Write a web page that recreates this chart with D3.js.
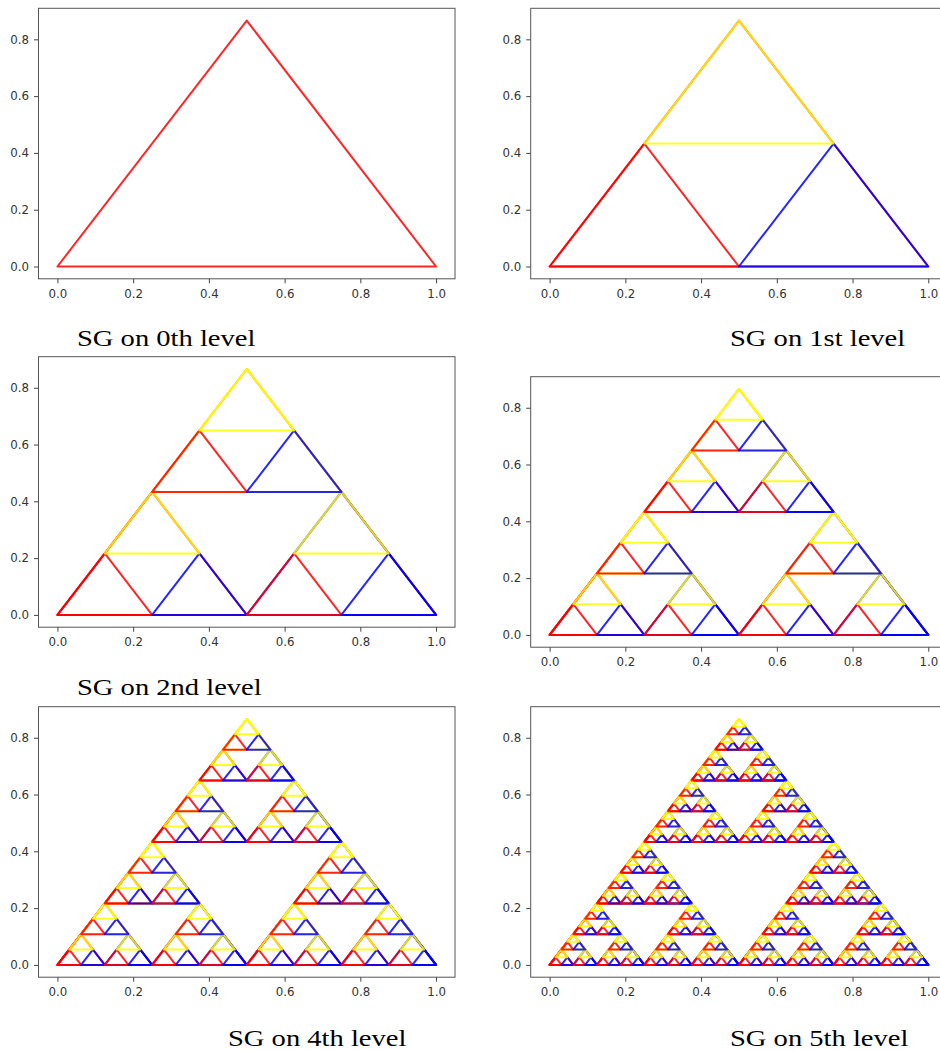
<!DOCTYPE html>
<html lang="en">
<head>
<meta charset="utf-8">
<title>Sierpinski gasket levels</title>
<script src="https://d3js.org/d3.v7.min.js"></script>
<style>
  body { margin: 0; background: #fff; overflow: hidden; }
  .tick text { font-family: "DejaVu Sans", sans-serif; font-size: 11.8px; fill: #333; }
  .tick line { stroke: #444; }
  .caption { font-family: "Liberation Serif", serif; font-size: 24px; fill: #000; }
</style>
</head>
<body>
<div id="chart"></div>
<script>
// levels drawn in the six panels (row by row)
const levels = [0, 1, 2, 3, 4, 5];
const captions = ["SG on 0th level", "SG on 1st level", "SG on 2nd level", "", "SG on 4th level", "SG on 5th level"];

// outer triangle
const baseTriangle = [[0, 0], [1, 0], [0.5, 0.866]];
// colour by sub triangle index: bottom-left, bottom-right, top
const subColors = ["red", "blue", "yellow"];
const baseColor = "red";

const xTicks = [0, 0.2, 0.4, 0.6, 0.8, 1.0];
const yTicks = [0, 0.2, 0.4, 0.6, 0.8];
const xDomain = [-0.05, 1.05];
const yDomain = [-0.0433, 0.9093];

// where each axes box sits on the page
const layout = [
  { left: 38.5, top: 8.3 },
  { left: 530.7, top: 8.3 },
  { left: 38.5, top: 356.7 },
  { left: 530.7, top: 376.7 },
  { left: 38.5, top: 706.7 },
  { left: 530.7, top: 706.7 }
];
const captionPos = [
  { x: 77, y: 345.5 },
  { x: 730, y: 345.5 },
  { x: 77, y: 695 },
  null,
  { x: 228, y: 1046 },
  { x: 730, y: 1046 }
];
const boxW = 416.5, boxH = 270.5;

const svg = d3.select("#chart").append("svg")
  .attr("width", 940)
  .attr("height", 1050);

function mid(p, q) { return [(p[0] + q[0]) / 2, (p[1] + q[1]) / 2]; }

// split every triangle of a level into its three corner triangles
function subdivide(tris) {
  const out = [];
  tris.forEach(t => {
    const [a, b, c] = t.pts;
    const ab = mid(a, b), ac = mid(a, c), bc = mid(b, c);
    out.push({ pts: [a, ab, ac], color: subColors[0] });
    out.push({ pts: [ab, b, bc], color: subColors[1] });
    out.push({ pts: [ac, bc, c], color: subColors[2] });
  });
  return out;
}

// all levels 0..5, each one is drawn on top of the previous ones
const allLevels = [[{ pts: baseTriangle, color: baseColor }]];
for (let i = 1; i <= d3.max(levels); i++) allLevels.push(subdivide(allLevels[i - 1]));

levels.forEach((lev, i) => {
  const pos = layout[i];
  const x = d3.scaleLinear().domain(xDomain).range([0, boxW]);
  const y = d3.scaleLinear().domain(yDomain).range([boxH, 0]);

  const g = svg.append("g").attr("transform", `translate(${pos.left},${pos.top})`);

  const line = d3.line()
    .x(d => x(d[0]))
    .y(d => y(d[1]))
    .curve(d3.curveLinearClosed);

  for (let k = 0; k <= lev; k++) {
    g.append("g").selectAll("path")
      .data(allLevels[k])
      .join("path")
      .attr("d", d => line(d.pts))
      .attr("fill", "none")
      .attr("stroke", d => d.color)
      .attr("stroke-opacity", 0.85)
      .attr("stroke-width", 2)
      .attr("stroke-linejoin", "round");
  }

  // frame
  g.append("rect")
    .attr("width", boxW)
    .attr("height", boxH)
    .attr("fill", "none")
    .attr("stroke", "#555")
    .attr("stroke-width", 1);

  const xAxis = g.append("g")
    .attr("transform", `translate(0,${boxH})`)
    .call(d3.axisBottom(x).tickValues(xTicks).tickFormat(d3.format(".1f")).tickSize(4.5).tickSizeOuter(0).tickPadding(6));
  const yAxis = g.append("g")
    .call(d3.axisLeft(y).tickValues(yTicks).tickFormat(d3.format(".1f")).tickSize(4.5).tickSizeOuter(0).tickPadding(5));
  [xAxis, yAxis].forEach(a => {
    a.select(".domain").remove();
    a.attr("font-family", null).attr("font-size", null);
  });

  if (captions[i]) {
    const c = captionPos[i];
    svg.append("text")
      .attr("class", "caption")
      .attr("transform", `translate(${c.x},${c.y}) scale(1.19,1)`)
      .text(captions[i]);
  }
});
</script>
</body>
</html>
